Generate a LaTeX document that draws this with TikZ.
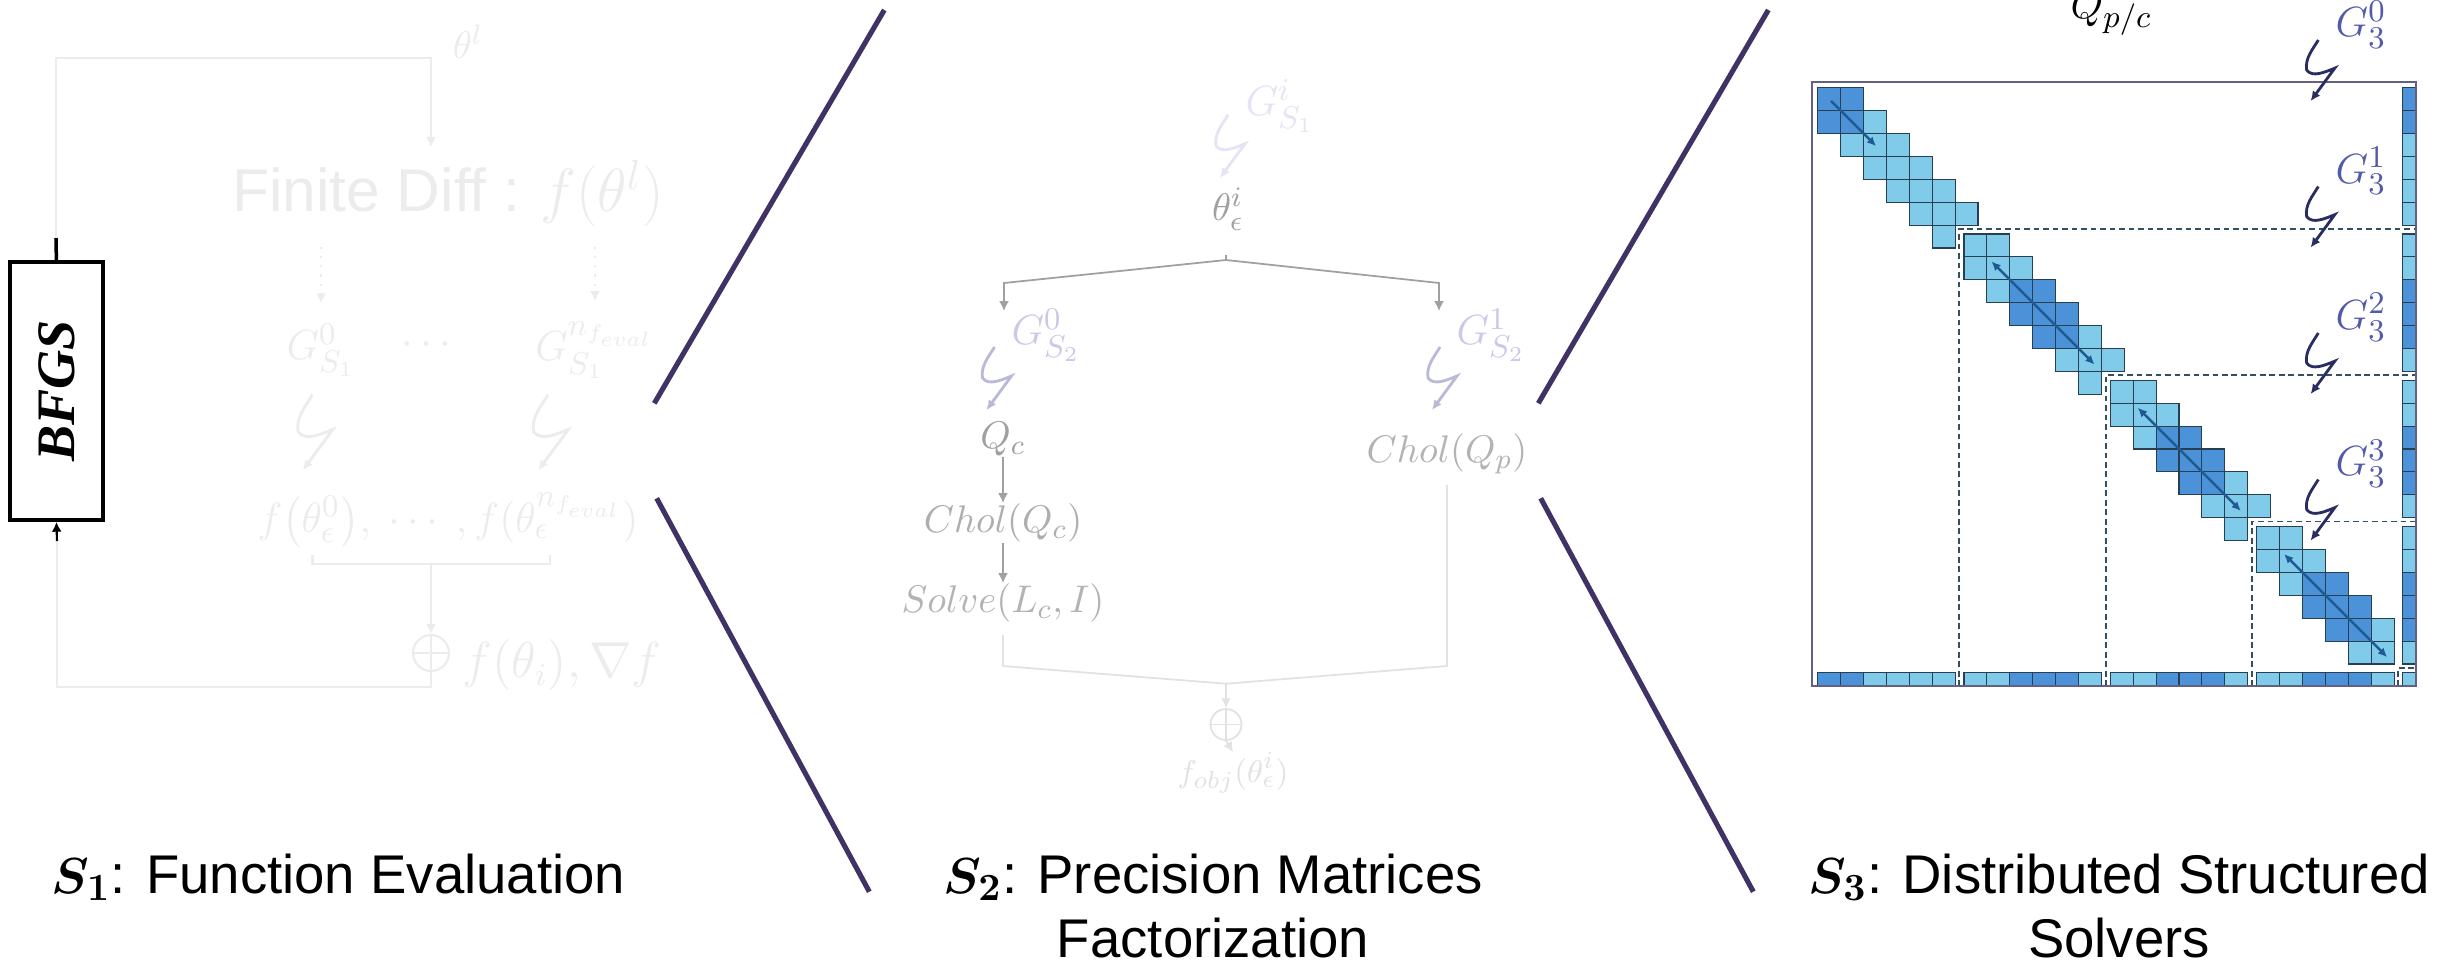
\documentclass[tikz,border=0pt]{standalone}
\usepackage{amsmath}
\usepackage{bm}
\usepackage{graphicx}
\usepackage{fontspec}
\setmainfont{Liberation Serif}
\setsansfont{Liberation Sans}
\usetikzlibrary{arrows.meta,calc}

\definecolor{divline}{RGB}{64,50,100}
\definecolor{ghost}{RGB}{236,236,236}
\definecolor{midgray}{RGB}{160,160,160}
\definecolor{paleline}{RGB}{226,226,226}
\definecolor{lavlight}{RGB}{228,228,244}
\definecolor{lavmid}{RGB}{202,202,232}
\definecolor{zaplav}{RGB}{186,186,216}
\definecolor{gthree}{RGB}{84,90,170}
\definecolor{zapdark}{RGB}{42,45,98}
\definecolor{cellD}{RGB}{76,146,216}
\definecolor{cellL}{RGB}{128,202,234}
\definecolor{cellrim}{RGB}{40,62,82}
\definecolor{bandarrow}{RGB}{31,91,146}
\definecolor{boxrim}{RGB}{100,96,130}
\definecolor{dashrim}{RGB}{50,80,100}

\tikzset{
  ghostline/.style={draw=ghost,line width=0.6pt},
  ghosttext/.style={text=ghost,inner sep=0pt},
  midline/.style={draw=midgray,line width=0.5pt},
  paletrack/.style={draw=paleline,line width=0.5pt},
  gtip/.style={-{Latex[length=2.8pt,width=2.8pt]}},
  zapline/.style={line width=0.8pt,-{Latex[length=2.8pt,width=2.6pt]}},
  divider/.style={draw=divline,line width=1.45pt},
  cell/.style={draw=cellrim,line width=0.3pt},
  bandarr/.style={draw=bandarrow,line width=0.7pt},
  blockdash/.style={draw=dashrim,line width=0.5pt,dash pattern=on 1.6pt off 1.1pt},
  glabel/.style={text=gthree,inner sep=0pt,font=\fontsize{12.2}{14}\selectfont},
  steplabel/.style={inner sep=0pt,align=center,font=\sffamily\fontsize{15.5}{18.2}\selectfont},
}

% lightning arrow: scale, style, start point
\newcommand{\zap}[3][1]{%
  \draw[zapline,#2] (#3) .. controls +(-6*#1,10*#1) and +(-2*#1,-12*#1) .. ++(-12*#1,31*#1)
    .. controls +(6*#1,8*#1) and +(-10*#1,4*#1) .. ++(29*#1,-2*#1) -- ++(-25*#1,34*#1);}

\def\cellw{22.9}

\begin{document}
\begin{tikzpicture}[x=0.01cm,y=-0.01cm]
  \useasboundingbox (0,0) rectangle (2451,966);
  \fill[white] (0,0) rectangle (2451,966);

  % S1: function evaluation
  \node[draw,line width=1pt,minimum width=0.93cm,minimum height=2.58cm,inner sep=0pt,
        font=\fontsize{15.4}{18}\selectfont\bfseries\itshape] (bfgs) at (56.4,391) {\rotatebox{90}{BFGS}};
  \node[ghosttext,font=\fontsize{11}{13}\selectfont] (thl) at (468,42) {$\theta^l$};
  \node[ghosttext,font=\fontsize{17.2}{21}\selectfont] (fd) at (448,193) {{\sffamily Finite Diff :} $f(\theta^l)$};
  \node[ghosttext,font=\fontsize{12.8}{15}\selectfont] (gs10) at (321,350) {$G^0_{S_1}$};
  \node[ghosttext,font=\fontsize{12.8}{15}\selectfont] (gsdots) at (430,345) {$\cdots$};
  \node[ghosttext,font=\fontsize{12.8}{15}\selectfont] (gs1n) at (595,350) {$G^{n_{f_{eval}}}_{S_1}$};
  \node[ghosttext,font=\fontsize{12.3}{15}\selectfont] (frow) at (448,520)
    {$f\big(\theta^0_\epsilon\big),\ \cdots\ , f(\theta_\epsilon^{n_{f_{eval}}})$};
  \node[circle,draw=ghost,line width=0.6pt,minimum size=0.36cm,inner sep=0pt] (plus1) at (431,653) {};
  \draw[ghostline] (plus1.north) -- (plus1.south) (plus1.west) -- (plus1.east);
  \node[ghosttext,font=\fontsize{13.5}{16}\selectfont] (fgrad) at (562,665) {$f(\theta_i), \nabla f$};

  \coordinate (ltop) at (56,238);
  \coordinate (lcorner) at (431,58.4);
  \coordinate (fdin) at (431,147);
  \coordinate (lbot) at (57,541);
  \coordinate (lcorner2) at (431,686.6);
  \coordinate (brl) at (312.5,555);
  \coordinate (brr) at (550,555);
  \coordinate (brm) at (431,564.4);

  \draw[line width=1pt] (bfgs.north) -- (ltop);
  \draw[ghostline,gtip] (ltop) |- (lcorner) -- (fdin);
  \draw[ghostline,dotted,gtip,shorten <=0.2cm,shorten >=0.2cm] (fd.south -| gs10.north) -- (gs10.north);
  \draw[ghostline,dotted,gtip,shorten <=0.2cm,shorten >=0.2cm] (fd.south -| gs1n.north) -- (gs1n.north);
  \zap[1.2]{ghost}{312.5,394.6}
  \zap[1.2]{ghost}{548,394.6}
  \draw[ghostline] (brl) -- ++(0,9.4) -| (brr);
  \draw[ghostline,gtip] (brm) -- (plus1.north);
  \draw[ghostline] (plus1.south) -- (lcorner2) -| (lbot);
  \draw[line width=0.6pt,gtip] (lbot) -- (bfgs.south);

  % S2: precision matrices
  \node[text=lavlight,inner sep=0pt,font=\fontsize{12.4}{14}\selectfont] (gs1i) at (1280,106) {$G^i_{S_1}$};
  \node[text=midgray,inner sep=0pt,font=\fontsize{11}{13}\selectfont] (thc) at (1228,209) {$\theta^i_\epsilon$};
  \node[text=lavmid,inner sep=0pt,font=\fontsize{12.4}{14}\selectfont] (gs20) at (1046,335) {$G^0_{S_2}$};
  \node[text=lavmid,inner sep=0pt,font=\fontsize{12.4}{14}\selectfont] (gs21) at (1491,335) {$G^1_{S_2}$};
  \node[text=midgray,inner sep=0pt,font=\fontsize{11.4}{13}\selectfont] (qc) at (1003,439) {$Q_c$};
  \node[text=midgray!85,inner sep=0pt,font=\fontsize{11}{13}\selectfont] (cholc) at (1003,523) {$Chol(Q_c)$};
  \node[text=midgray!80,inner sep=0pt,font=\fontsize{11}{13}\selectfont] (solve) at (1003,603) {$Solve(L_c, I)$};
  \node[text=midgray!80,inner sep=0pt,font=\fontsize{11}{13}\selectfont] (cholp) at (1447,454) {$Chol(Q_p)$};
  \node[circle,draw=paleline,line width=0.5pt,minimum size=0.31cm,inner sep=0pt] (plus2) at (1226,724.5) {};
  \draw[paletrack] (plus2.north) -- (plus2.south) (plus2.west) -- (plus2.east);
  \node[text=paleline,inner sep=0pt,font=\fontsize{9.5}{11}\selectfont] (fobj) at (1233,773) {$f_{obj}(\theta^i_\epsilon)$};

  \coordinate (split) at (1226,260);
  \coordinate (brq) at (1004,311);
  \coordinate (brp) at (1439,311);
  \coordinate (mrg) at (1226,683.7);

  \zap{lavlight}{1228,114.8}
  \draw[midline] (split) -- ++(0,-5);
  \draw[midline,gtip] (split) -- ++(-222,23) -- (brq);
  \draw[midline,gtip] (split) -- ++(213,23) -- (brp);
  \zap{zaplav}{994.5,347}
  \zap{zaplav}{1440,347}
  \draw[midline,gtip] (qc.south) -- (qc.south |- cholc.north);
  \draw[midline,gtip] (cholc.south) -- (cholc.south |- solve.north);
  \draw[paletrack] (solve.south |- 0,635) -- (solve.south |- 0,666) -- (mrg);
  \draw[paletrack] (cholp.south |- 0,484.7) -- (cholp.south |- 0,666) -- (mrg);
  \draw[paletrack,gtip] (mrg) -- (plus2.north);
  \draw[paletrack,gtip] (plus2.south) -- (fobj.north);

  % S3: block tridiagonal matrix
  \foreach \k in {0,...,3}{
    \pgfmathsetmacro{\bkx}{1817.7+146.3*\k}
    \pgfmathsetmacro{\bky}{87.7+146.3*\k}
    \foreach \r/\c in {0/0,0/1,1/0,1/1,1/2,2/1,2/2,2/3,3/2,3/3,3/4,4/3,4/4,4/5,5/4,5/5}
      \draw[cell,fill=cellL] (\bkx+\c*\cellw,\bky+\r*\cellw) rectangle ++(\cellw,\cellw);
    \ifnum\k<3
      \foreach \r/\c in {5/6,6/5}
        \draw[cell,fill=cellL] (\bkx+\c*\cellw,\bky+\r*\cellw) rectangle ++(\cellw,\cellw);
    \fi
    \ifnum\k=0 \def\dk{0/0,0/1,1/0,1/1}\else\def\dk{2/2,2/3,3/2,3/3,3/4,4/3,4/4}\fi
    \foreach \r/\c in \dk
      \draw[cell,fill=cellD] (\bkx+\c*\cellw,\bky+\r*\cellw) rectangle ++(\cellw,\cellw);
    % arrowhead rows and columns
    \foreach \i in {0,...,5}{
      \pgfmathtruncatemacro{\isdk}{ifthenelse(\k==0,\i<2,and(\i>1,\i<5))}
      \ifnum\isdk=1 \colorlet{stripc}{cellD}\else\colorlet{stripc}{cellL}\fi
      \draw[cell,fill=stripc] (2402.7,\bky+\i*\cellw) rectangle ++(13.3,\cellw);
      \draw[cell,fill=stripc] (\bkx+\i*\cellw,672.7) rectangle ++(\cellw,13.3);
    }
  }
  \draw[cell,fill=cellL] (2402.7,672.7) rectangle (2416,686);

  \foreach \k in {1,...,4}
    \draw[blockdash] (1813+146.3*\k,686) |- (2416,82.5+146.3*\k);
  \draw[draw=boxrim,line width=0.6pt] (1812,82) rectangle (2416,686);

  \draw[bandarr,-{Latex[length=2.6pt,width=2.4pt]}]
    (1817.7+0.58*\cellw,87.7+0.58*\cellw) -- (1817.7+2.55*\cellw,87.7+2.55*\cellw);
  \foreach \k in {1,2,3}
    \draw[bandarr,{Latex[length=2.6pt,width=2.4pt]}-{Latex[length=2.6pt,width=2.4pt]}]
      (1817.7+146.3*\k+1.2*\cellw,87.7+146.3*\k+1.2*\cellw) -- (1817.7+146.3*\k+5.7*\cellw,87.7+146.3*\k+5.7*\cellw);

  \node[inner sep=0pt,anchor=base west,font=\fontsize{12.2}{14}\selectfont] (qpc) at (2070,18.5) {$Q_{p/c}$};
  \foreach \k in {0,...,3}{
    \node[glabel,anchor=base west] (g3\k) at (2335,36.7+146.3*\k) {$G^{\k}_3$};
    \zap[0.97]{zapdark}{2318.3,40+146.5*\k}
  }

  % dividers between the stages
  \draw[divider] (654.3,403.3) -- (884.3,10);
  \draw[divider] (656.7,498.3) -- (869.3,891.7);
  \draw[divider] (1538.3,403.3) -- (1768.3,10);
  \draw[divider] (1540.7,498.3) -- (1753.3,891.7);

  % stage captions
  \node[steplabel,anchor=north] (lab1) at (338.5,853) {$\bm{S_1}$: Function Evaluation};
  \node[steplabel,anchor=north] (lab2) at (1213,853) {$\bm{S_2}$: Precision Matrices\\Factorization};
  \node[steplabel,anchor=north] (lab3) at (2119,853) {$\bm{S_3}$: Distributed Structured\\Solvers};
\end{tikzpicture}
\end{document}
